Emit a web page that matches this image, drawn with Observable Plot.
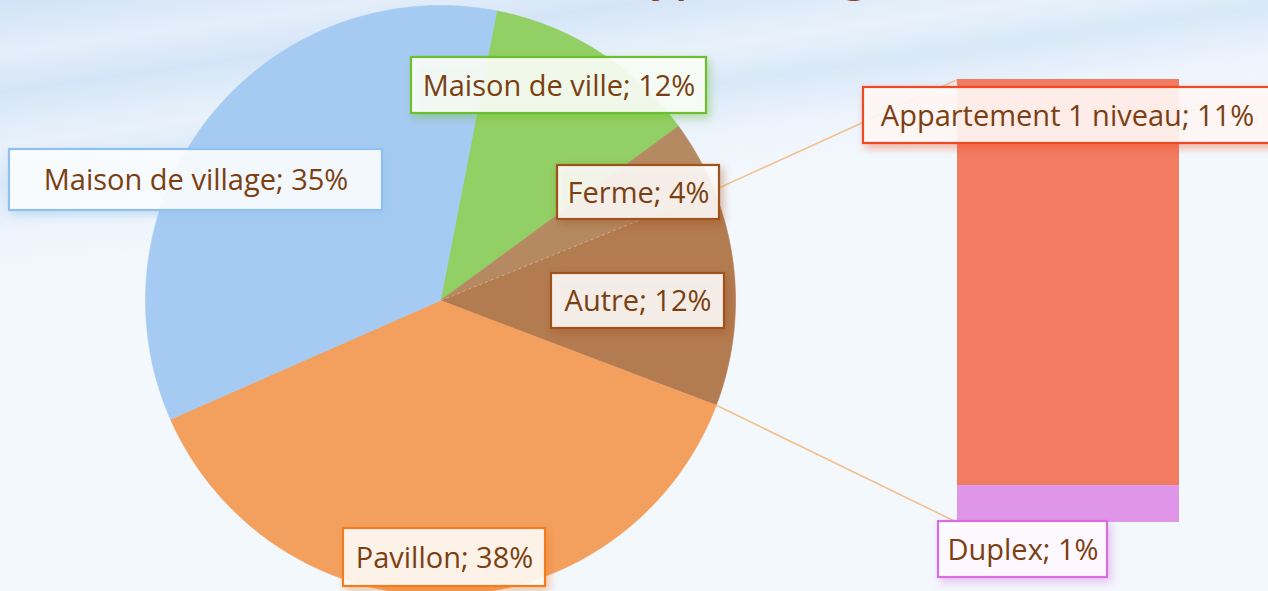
<!DOCTYPE html>
<html><head><meta charset="utf-8">
<script src="https://cdn.jsdelivr.net/npm/d3@7"></script>
<script src="https://cdn.jsdelivr.net/npm/@observablehq/plot@0.6"></script>
<style>
html,body{margin:0;padding:0;background:#f3f8fd;overflow:hidden}
#chart svg{display:block}
</style>
<style id="shadows"></style>
</head><body><div id="chart"></div>
<script>
// ---- data ----
const pieNames = ["Maison de ville", "Ferme", "Autre", "Pavillon", "Maison de village"];
const pieValues = [12, 4, 12, 38, 35];
const barNames = ["Appartement 1 niveau", "Duplex"];
const barValues = [11, 1];
const otherName = "Autre";
const titleText = "Type de logement";

// ---- styles ----
const pieColors = ["#92cf64", "#b58a62", "#b37b50", "#f3a05f", "#a5cbf2"];
const barColors = ["#f17c62", "#e096e8"];
const boxStrokes = {
  "Maison de ville": "#6dbf2f", "Ferme": "#a0521c", "Autre": "#a0521c",
  "Pavillon": "#f07d1f", "Maison de village": "#8fc0ee",
  "Appartement 1 niveau": "#ef4a23", "Duplex": "#d86de2"
};
const textColor = "#7b3f12";
const font = "'Open Sans', sans-serif";

// ---- layout (pixels) ----
const W = 1268, H = 591;
const cx = 440, cy = 300, r = 295, startDeg = 11;
const bar = {x1: 957, x2: 1179, y1: 79, y2: 522};
const boxLayout = {
  "Maison de village": [9, 382, 149, 210],
  "Maison de ville": [411, 706, 57, 113],
  "Ferme": [557, 719, 165, 219],
  "Autre": [551, 724, 273, 328],
  "Pavillon": [343, 545, 528, 586],
  "Appartement 1 niveau": [863, 1290, 87, 143, 1067],
  "Duplex": [938, 1107, 521, 577]
};

// ---- geometry from data ----
const rad = a => a * Math.PI / 180;
const onCircle = a => ({x: cx + r * Math.sin(rad(a)), y: cy - r * Math.cos(rad(a))});
const total = d3.sum(pieValues);
let acc = 0;
const slices = pieNames.map((name, i) => {
  const a0 = startDeg + acc / total * 360;
  acc += pieValues[i];
  const a1 = startDeg + acc / total * 360;
  return {name, value: pieValues[i], a0, a1};
});
const piePts = slices.flatMap(s => {
  const pts = [{name: s.name, x: cx, y: cy}];
  const n = Math.max(2, Math.ceil((s.a1 - s.a0) * 2));
  for (let k = 0; k <= n; k++) {
    const p = onCircle(s.a0 + (s.a1 - s.a0) * k / n);
    pts.push({name: s.name, x: p.x, y: p.y});
  }
  pts.push({name: s.name, x: cx, y: cy});
  return pts;
});

const barTotal = d3.sum(barValues);
let bacc = 0;
const barSegs = barNames.map((name, i) => {
  const y1 = bar.y1 + bacc / barTotal * (bar.y2 - bar.y1);
  bacc += barValues[i];
  const y2 = bar.y1 + bacc / barTotal * (bar.y2 - bar.y1);
  return {name, value: barValues[i], x1: bar.x1, x2: bar.x2, y1, y2};
});

const other = slices.find(s => s.name === otherName);
const pA = onCircle(other.a0), pB = onCircle(other.a1);
const links = [
  {x1: pA.x, y1: pA.y, x2: bar.x1, y2: bar.y1},
  {x1: pB.x, y1: pB.y, x2: bar.x1, y2: bar.y2}
];
const seam = [{x1: cx, y1: cy, x2: pA.x, y2: pA.y}];

const labelItems = [...slices, ...barSegs].map(d => {
  const b = boxLayout[d.name];
  return {
    name: d.name, label: `${d.name}; ${d.value}%`,
    x1: b[0], x2: b[1], y1: b[2], y2: b[3],
    tx: b[4] !== undefined ? b[4] : (b[0] + b[1]) / 2,
    ty: (b[2] + b[3]) / 2 + 1,
    stroke: boxStrokes[d.name]
  };
});

// per-box shadow css
document.getElementById("shadows").textContent = labelItems.map((d, i) => {
  const c = d3.color(d.stroke); c.opacity = 0.45;
  return `g[aria-description="box-${i}"] rect{filter:drop-shadow(3px 4px 4px ${c.formatRgb()})}`;
}).join("\n");

const boxMarks = labelItems.map((d, i) => Plot.rect([d], {
  x1: "x1", x2: "x2", y1: "y1", y2: "y2",
  fill: "white", fillOpacity: 0.88, stroke: d.stroke, strokeWidth: 2.2,
  ariaDescription: `box-${i}`
}));

const chart = Plot.plot({
  width: W, height: H,
  margin: 0,
  x: {domain: [0, W], range: [0, W], axis: null},
  y: {domain: [0, H], range: [0, H], axis: null},
  color: {type: "ordinal", domain: [...pieNames, ...barNames], range: [...pieColors, ...barColors]},
  style: {
    background: "linear-gradient(172deg, #d1e3f6 0%, #e4eefa 7%, #d5e5f7 12%, #e9f2fb 19%, #d9e8f8 24%, #ecf3fc 30%, #f3f8fd 36%, #f3f8fd 100%)",
    overflow: "hidden",
    fontFamily: font
  },
  marks: [
    Plot.text([titleText], {x: () => 626, y: () => -24, text: d => d, textAnchor: "start",
      fontSize: 44, fontWeight: 600, fill: "#8a4513", fontFamily: font}),
    Plot.line(piePts, {x: "x", y: "y", z: "name", fill: "name", stroke: "name", strokeWidth: 0.6, curve: "linear"}),
    Plot.link(seam, {x1: "x1", y1: "y1", x2: "x2", y2: "y2", stroke: "#d9b894", strokeWidth: 1, strokeDasharray: "3,3", strokeOpacity: 0.8}),
    Plot.link(links, {x1: "x1", y1: "y1", x2: "x2", y2: "y2", stroke: "#f5c08e", strokeWidth: 1.6}),
    Plot.rect(barSegs, {x1: "x1", x2: "x2", y1: "y1", y2: "y2", fill: "name"}),
    ...boxMarks,
    Plot.text(labelItems, {x: "tx", y: "ty", text: "label", fontSize: 29, fill: textColor, fontFamily: font})
  ]
});
document.getElementById("chart").appendChild(chart);
</script>
</body></html>
